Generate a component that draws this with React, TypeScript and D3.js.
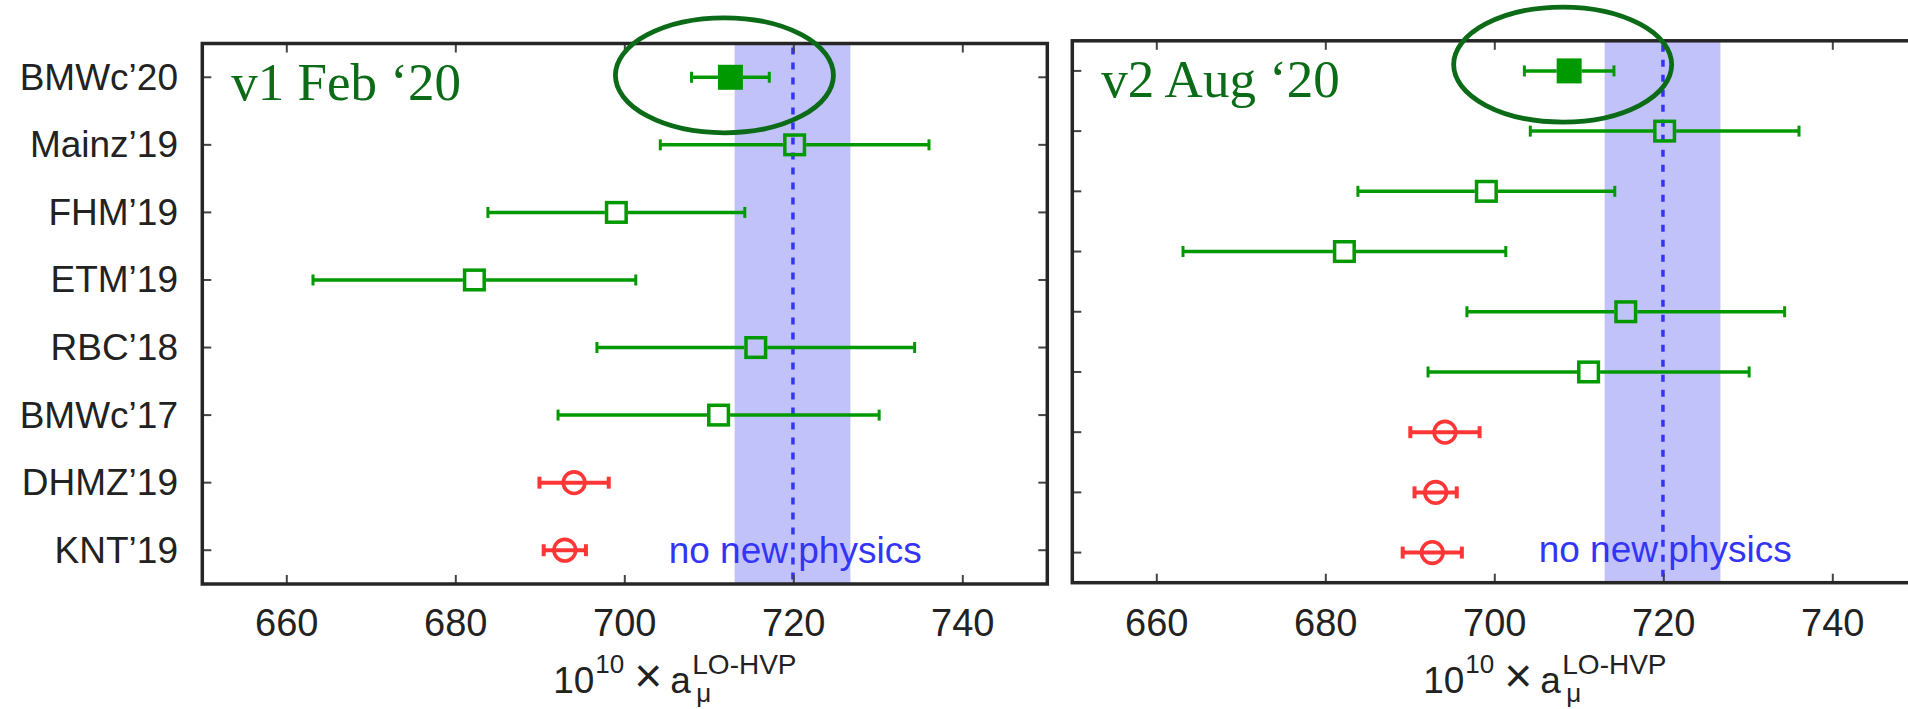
import React from 'react';
import * as d3 from 'd3';

const W = 1908;
const H = 709;

// x axis
const xDomain = [650, 750];
const xTicks = [660, 680, 700, 720, 740];

// "no new physics" band
const bandLo = 713.0;
const bandHi = 726.7;
const bandMid = 719.9;

// v1 Feb '20
const v1Labels = ['BMWc’20', 'Mainz’19', 'FHM’19', 'ETM’19', 'RBC’18', 'BMWc’17', 'DHMZ’19', 'KNT’19'];
const v1Values = [712.5, 720.1, 699.0, 682.2, 715.5, 711.1, 694.0, 692.9];
const v1Errors = [4.6, 15.9, 15.2, 19.1, 18.8, 19.0, 4.1, 2.5];
const v1Kinds = ['filled', 'open', 'open', 'open', 'open', 'open', 'circle', 'circle'];

// v2 Aug '20
const v2Labels = ['BMWc’20', 'Mainz’19', 'FHM’19', 'ETM’19', 'RBC’18', 'BMWc’17', 'DHMZ’19', 'KNT’19', 'WP’20'];
const v2Values = [708.8, 720.1, 699.0, 682.2, 715.5, 711.1, 694.1, 693.0, 692.6];
const v2Errors = [5.3, 15.9, 15.2, 19.1, 18.8, 19.0, 4.1, 2.5, 3.5];
const v2Kinds = ['filled', 'open', 'open', 'open', 'open', 'open', 'circle', 'circle', 'circle'];

const GREEN = '#009a00';
const RED = '#ff3636';
const DARK = '#0b6b17';
const BLUE = '#3434f6';
const BAND = '#c2c2fa';
const FRAME = '#262626';
const SANS = '"Liberation Sans", Arial, Helvetica, sans-serif';
const SERIF = '"Liberation Serif", "Times New Roman", serif';

const PANEL_W = 845;

function Panel({ left, top, bottom, labels, values, errors, kinds, title, showLabels, ell }) {
  const right = left + PANEL_W;
  const x = d3.scaleLinear().domain(xDomain).range([left, right]);
  const y = d3.scalePoint().domain(labels).range([top, bottom]).padding(0.5);
  const tick = 9;

  return (
    <g>
      {/* band + central line */}
      <rect x={x(bandLo)} y={top} width={x(bandHi) - x(bandLo)} height={bottom - top} fill={BAND} />
      <line x1={x(bandMid)} x2={x(bandMid)} y1={top + 4} y2={bottom} stroke={BLUE}
        strokeWidth={3.5} strokeDasharray="7 8" />

      {/* points */}
      {labels.map((lab, i) => {
        const cy = y(lab);
        const cx = x(values[i]);
        const lo = x(values[i] - errors[i]);
        const hi = x(values[i] + errors[i]);
        const k = kinds[i];
        if (k === 'circle') {
          return (
            <g key={lab} stroke={RED} strokeWidth={4} fill="none">
              <line x1={lo} x2={hi} y1={cy} y2={cy} />
              <line x1={lo} x2={lo} y1={cy - 6} y2={cy + 6} />
              <line x1={hi} x2={hi} y1={cy - 6} y2={cy + 6} />
              <circle cx={cx} cy={cy} r={10.8} strokeWidth={3.6} />
            </g>
          );
        }
        const half = k === 'filled' ? 12.5 : 11.5;
        return (
          <g key={lab} stroke={GREEN} strokeWidth={3.5} fill="none">
            <line x1={lo} x2={cx - half} y1={cy} y2={cy} />
            <line x1={cx + half} x2={hi} y1={cy} y2={cy} />
            <line x1={lo} x2={lo} y1={cy - 5.5} y2={cy + 5.5} strokeWidth={3} />
            <line x1={hi} x2={hi} y1={cy - 5.5} y2={cy + 5.5} strokeWidth={3} />
            {k === 'filled'
              ? <rect x={cx - 12.5} y={cy - 12.5} width={25} height={25} fill={GREEN} stroke="none" />
              : <rect x={cx - 9.8} y={cy - 9.8} width={19.6} height={19.6} strokeWidth={3.5} />}
          </g>
        );
      })}

      <text x={left + 466.4} y={bottom - 21} fontFamily={SANS} fontSize={37} fill={BLUE}>no new physics</text>

      {/* ticks, mirrored on all sides */}
      <g stroke="#444" strokeWidth={2}>
        {xTicks.map(t => (
          <g key={t}>
            <line x1={x(t)} x2={x(t)} y1={bottom} y2={bottom - tick} />
            <line x1={x(t)} x2={x(t)} y1={top} y2={top + tick} />
          </g>
        ))}
        {labels.map(lab => (
          <g key={lab}>
            <line x1={left} x2={left + tick} y1={y(lab)} y2={y(lab)} />
            <line x1={right} x2={right - tick} y1={y(lab)} y2={y(lab)} />
          </g>
        ))}
      </g>

      <rect x={left} y={top} width={PANEL_W} height={bottom - top} fill="none" stroke={FRAME} strokeWidth={3.5} />

      {/* tick labels */}
      {xTicks.map(t => (
        <text key={t} x={x(t)} y={636} textAnchor="middle" fontFamily={SANS} fontSize={38} fill="#222">{t}</text>
      ))}
      {showLabels && labels.map(lab => (
        <text key={lab} x={178} y={y(lab) + 12.5} textAnchor="end" fontFamily={SANS} fontSize={37} fill="#222">{lab}</text>
      ))}

      {/* axis title: 10^10 x a_mu^LO-HVP */}
      <g fontFamily={SANS} fill="#222">
        <text x={left + 351} y={693} fontSize={37}>10</text>
        <text x={left + 393} y={673} fontSize={26}>10</text>
        <text x={left + 432} y={692} fontSize={48}>×</text>
        <text x={left + 468} y={693} fontSize={37}>a</text>
        <text x={left + 494} y={702} fontSize={26}>μ</text>
        <text x={left + 490} y={674} fontSize={28}>LO-HVP</text>
      </g>

      {/* panel title */}
      <text x={left + 29} y={top + 56.5} fontFamily={SERIF} fontSize={53} fill={DARK}>{title}</text>

      {/* highlight ellipse round the newest lattice result */}
      <ellipse cx={x(values[0]) + ell.dx} cy={y(labels[0]) + ell.dy} rx={109} ry={57.5}
        fill="none" stroke={DARK} strokeWidth={4.8} />
    </g>
  );
}

export default function App() {
  return (
    <svg width={W} height={H} viewBox={`0 0 ${W} ${H}`}
      style={{ position: 'absolute', left: 0, top: 0, background: '#fff' }}>
      <rect width={W} height={H} fill="#fff" />
      <Panel left={202.3} top={43.5} bottom={584} labels={v1Labels} values={v1Values}
        errors={v1Errors} kinds={v1Kinds} title="v1 Feb ‘20" showLabels ell={{ dx: -6, dy: -2 }} />
      <Panel left={1072.3} top={40.8} bottom={582.7} labels={v2Labels} values={v2Values}
        errors={v2Errors} kinds={v2Kinds} title="v2 Aug ‘20" showLabels={false} ell={{ dx: -6.5, dy: -6.3 }} />
    </svg>
  );
}
